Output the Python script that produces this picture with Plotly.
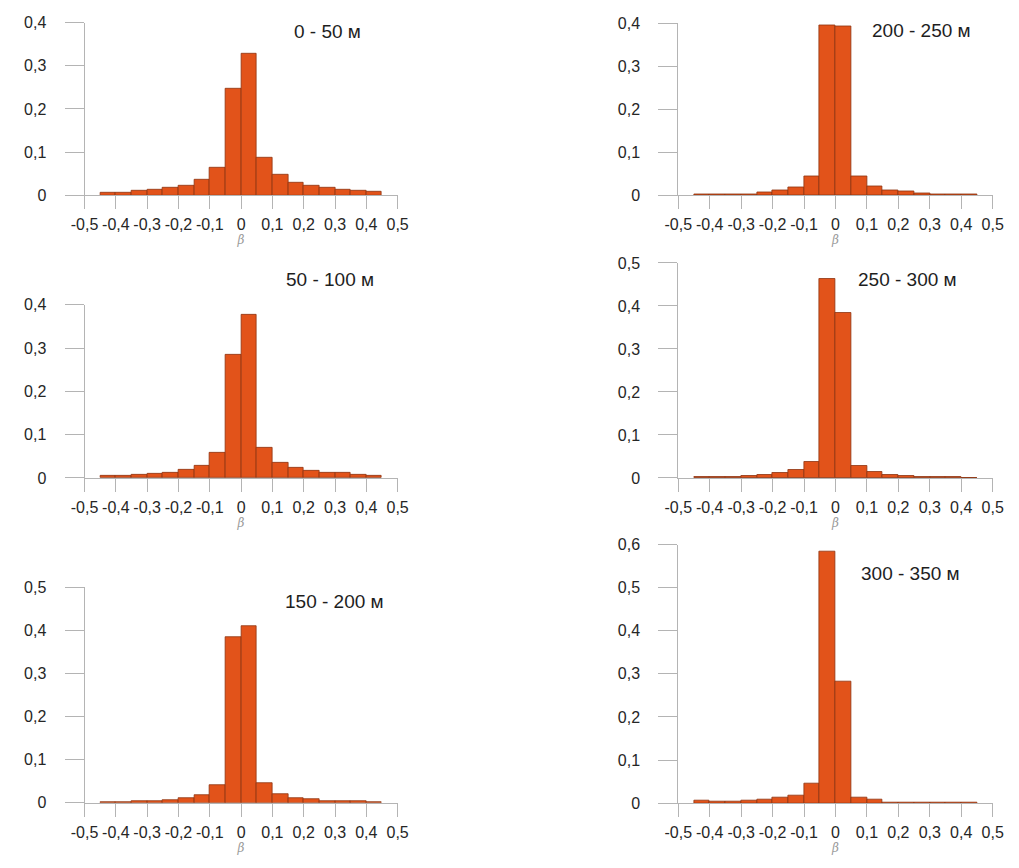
import plotly.graph_objects as go

# ---- data ----
bin_centers = [-0.425, -0.375, -0.325, -0.275, -0.225, -0.175, -0.125, -0.075, -0.025,
               0.025, 0.075, 0.125, 0.175, 0.225, 0.275, 0.325, 0.375, 0.425]
bin_width = 0.05

titles = ["0 - 50 м", "200 - 250 м", "50 - 100 м", "250 - 300 м", "150 - 200 м", "300 - 350 м"]

v_0_50 = [0.005, 0.007, 0.010, 0.012, 0.017, 0.021, 0.035, 0.064, 0.248,
          0.329, 0.086, 0.047, 0.030, 0.023, 0.017, 0.013, 0.011, 0.009]
v_200_250 = [0.002, 0.002, 0.003, 0.003, 0.006, 0.011, 0.018, 0.043, 0.396,
             0.394, 0.043, 0.021, 0.011, 0.008, 0.005, 0.003, 0.002, 0.002]
v_50_100 = [0.0045, 0.005, 0.007, 0.010, 0.013, 0.018, 0.027, 0.057, 0.284,
            0.378, 0.069, 0.035, 0.023, 0.017, 0.012, 0.011, 0.008, 0.006]
v_250_300 = [0.0015, 0.002, 0.003, 0.004, 0.006, 0.011, 0.018, 0.038, 0.463,
             0.384, 0.027, 0.014, 0.006, 0.005, 0.002, 0.0015, 0.0015, 0.001]
v_150_200 = [0.0015, 0.002, 0.003, 0.0045, 0.007, 0.010, 0.017, 0.040, 0.385,
             0.410, 0.045, 0.021, 0.012, 0.008, 0.005, 0.004, 0.003, 0.002]
v_300_350 = [0.006, 0.004, 0.003, 0.005, 0.0075, 0.013, 0.017, 0.045, 0.584,
             0.283, 0.014, 0.0075, 0.0015, 0.002, 0.001, 0.0007, 0.0005, 0.0005]

series = [v_0_50, v_200_250, v_50_100, v_250_300, v_150_200, v_300_350]

x_tickvals = [-0.5, -0.4, -0.3, -0.2, -0.1, 0, 0.1, 0.2, 0.3, 0.4, 0.5]
x_ticktext = ["-0,5", "-0,4", "-0,3", "-0,2", "-0,1", "0", "0,1", "0,2", "0,3", "0,4", "0,5"]
y_tickvals_all = [0, 0.1, 0.2, 0.3, 0.4, 0.5, 0.6]
y_ticktext_all = ["0", "0,1", "0,2", "0,3", "0,4", "0,5", "0,6"]
y_max = [0.4, 0.4, 0.4, 0.5, 0.5, 0.6]

# ---- layout (pixels) ----
W, H = 1019, 868
# (left, right, top, bottom) in pixels of each plot area
boxes = [
    (72.3, 393.3, 15.0, 191.0),
    (681.0, 1003.3, 15.7, 191.0),
    (72.3, 393.3, 302.7, 479.3),
    (681.0, 1003.3, 260.0, 479.3),
    (72.3, 393.3, 590.7, 810.7),
    (681.0, 1003.3, 547.3, 811.0),
]
title_pos = [(321, 24), (930, 23), (323.5, 277), (915.5, 277), (328.5, 605), (919.5, 577)]

BAR = "#E2531A"
EDGE = "#8E3410"
AXIS = "#B4B4B4"
TXT = "#262626"
FONT = "Liberation Sans, Arial, sans-serif"

fig = go.Figure()
layout = dict(
    width=W, height=H,
    margin=dict(l=0, r=0, t=0, b=0),
    paper_bgcolor="white", plot_bgcolor="white",
    showlegend=False,
    font=dict(family=FONT, color=TXT, size=15),
    bargap=0,
    annotations=[],
)

for i, vals in enumerate(series):
    n = i + 1
    xa = "x" if n == 1 else f"x{n}"
    ya = "y" if n == 1 else f"y{n}"
    fig.add_trace(go.Bar(
        x=bin_centers, y=vals, width=bin_width,
        marker=dict(color=BAR, line=dict(color=EDGE, width=0.8)),
        xaxis=xa, yaxis=ya, hoverinfo="x+y",
    ))
    l, r, t, b = boxes[i]
    nt = int(round(y_max[i] / 0.1)) + 1
    layout["xaxis" if n == 1 else f"xaxis{n}"] = dict(
        domain=[l / W, r / W], anchor=ya, range=[-0.5, 0.5],
        showline=True, linecolor=AXIS, linewidth=1,
        ticks="outside", ticklen=13, tickcolor=AXIS, tickwidth=1,
        tickvals=x_tickvals, ticktext=x_ticktext, ticklabelstandoff=2,
        showgrid=False, zeroline=False,
        tickfont=dict(size=16, color=TXT, family=FONT),
        title=dict(text="β", standoff=0,
                   font=dict(size=12, color="#999999", family="DejaVu Serif, serif", style="italic")),
    )
    layout["yaxis" if n == 1 else f"yaxis{n}"] = dict(
        domain=[1 - b / H, 1 - t / H], anchor=xa, range=[0, y_max[i]],
        showline=True, linecolor=AXIS, linewidth=1,
        ticks="outside", ticklen=19, tickcolor=AXIS, tickwidth=1,
        tickvals=y_tickvals_all[:nt], ticktext=y_ticktext_all[:nt], ticklabelstandoff=15,
        showgrid=False, zeroline=False,
        tickfont=dict(size=16, color=TXT, family=FONT),
    )
    tx, ty = title_pos[i]
    layout["annotations"].append(dict(
        text=titles[i], x=tx / W, y=1 - ty / H, xref="paper", yref="paper",
        xanchor="center", yanchor="middle", showarrow=False,
        font=dict(size=19, color="#1e1e1e", family=FONT),
    ))

fig.update_layout(**layout)
fig.write_html("out.html")
